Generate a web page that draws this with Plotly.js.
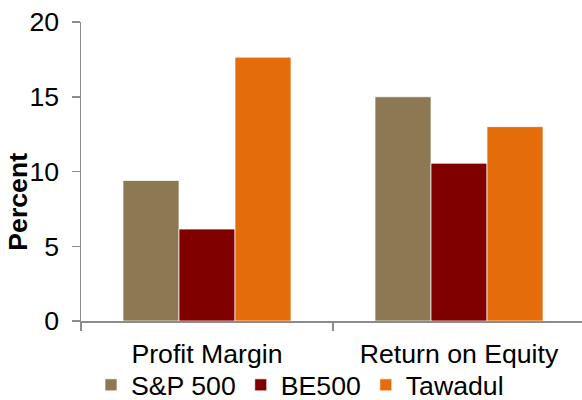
<!DOCTYPE html>
<html>
<head>
<meta charset="utf-8">
<script src="https://cdn.plot.ly/plotly-3.0.1.min.js"></script>
<style>html,body{margin:0;padding:0;background:#fff;}#chart{width:582px;height:400px;}</style>
</head>
<body>
<div id="chart"></div>
<script>
const categories = ["Profit Margin", "Return on Equity"];
const seriesNames = ["S&P 500", "BE500", "Tawadul"];
const sp500 = [9.4, 15.0];
const be500 = [6.15, 10.55];
const tawadul = [17.65, 13.0];
const yTicks = [0, 5, 10, 15, 20];
const colors = ["#8C7853", "#800000", "#E46C0A"];

const values = [sp500, be500, tawadul];
const font = "Arial, 'Liberation Sans', sans-serif";
const traces = values.map((v, i) => ({
  type: "bar",
  name: seriesNames[i],
  x: categories,
  y: v,
  marker: {color: colors[i], line: {color: "rgba(255,255,255,0.7)", width: 1}},
  hoverinfo: "none"
}));

const plotL = 81, plotT = 22, plotB = 78.5, W = 582, H = 400;
const plotH = H - plotT - plotB;

const layout = {
  width: W, height: H,
  margin: {l: plotL, r: 0, t: plotT, b: plotB, pad: 0, autoexpand: false},
  paper_bgcolor: "#fff", plot_bgcolor: "#fff",
  font: {family: font, size: 26.67, color: "#000"},
  barmode: "group",
  bargap: 1/3,
  bargroupgap: 0,
  showlegend: true,
  legend: {
    orientation: "h",
    xref: "container", yref: "container",
    x: 91 / W, xanchor: "left",
    y: 1 - 385 / H, yanchor: "middle",
    font: {family: font, size: 26.67, color: "#000"},
    bgcolor: "rgba(0,0,0,0)",
    traceorder: "normal"
  },
  xaxis: {
    type: "category",
    automargin: false,
    range: [-0.5, 1.5 - 3/252],
    showline: true, linecolor: "#8c8c8c", linewidth: 1.5,
    ticks: "outside", tickson: "boundaries", ticklen: 8, tickcolor: "#8c8c8c", tickwidth: 1.5,
    showgrid: false, zeroline: false,
    tickfont: {family: font, size: 26.67, color: "#000"},
    ticklabelstandoff: 8,
    fixedrange: true
  },
  yaxis: {
    automargin: false,
    range: [0, 20],
    tickvals: yTicks,
    ticktext: yTicks.map(String),
    showline: true, linecolor: "#8c8c8c", linewidth: 1.5,
    ticks: "outside", ticklen: 8, tickcolor: "#8c8c8c", tickwidth: 1.5,
    showgrid: false, zeroline: false,
    tickfont: {family: font, size: 26.67, color: "#000"},
    ticklabelstandoff: 7,
    fixedrange: true
  },
  annotations: [{
    text: "<b>Percent</b>",
    xref: "paper", yref: "paper",
    x: (18 - plotL) / (W - plotL), y: (plotH + plotT - 202) / plotH,
    xanchor: "center", yanchor: "middle",
    textangle: -90, showarrow: false,
    font: {family: font, size: 26.67, color: "#000"}
  }]
};

Plotly.newPlot("chart", traces, layout, {displayModeBar: false, staticPlot: true});
</script>
</body>
</html>
